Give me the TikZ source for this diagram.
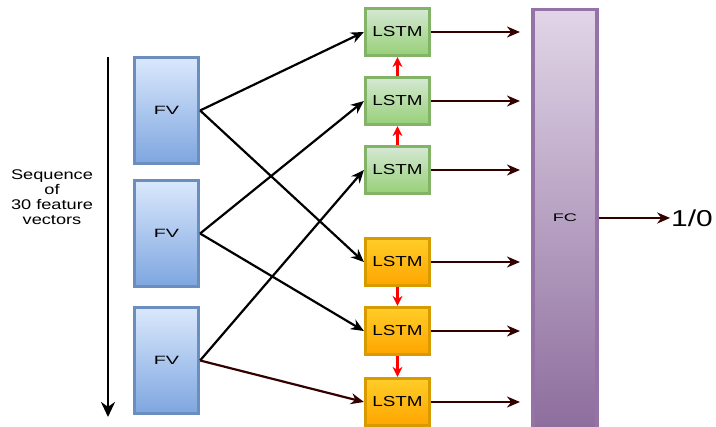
\documentclass[tikz,border=0pt]{standalone}
\usepackage{fontspec}
\setmainfont{Liberation Sans}
\newfontfamily\wideface{Liberation Sans}[FakeStretch=1.3]
\newfontfamily\widerface{Liberation Sans}[FakeStretch=1.65]
\usetikzlibrary{arrows.meta}
\definecolor{FvLine}{HTML}{6C8EBF}
\definecolor{FvTop}{HTML}{DAE8FC}
\definecolor{FvBot}{HTML}{7EA6E0}
\definecolor{GrLine}{HTML}{82B366}
\definecolor{GrTop}{HTML}{D5E8D4}
\definecolor{GrBot}{HTML}{97D077}
\definecolor{OrLine}{HTML}{D79B00}
\definecolor{OrTop}{HTML}{FFCD28}
\definecolor{OrBot}{HTML}{FFA500}
\definecolor{FcLine}{HTML}{9673A6}
\definecolor{FcTop}{HTML}{E1D5E7}
\definecolor{FcBot}{HTML}{8C6C9C}
\definecolor{DarkRed}{HTML}{330000}

\begin{document}
\begin{tikzpicture}[x=1pt, y=-1pt, line width=2.2pt, -{Stealth[length=13pt,width=11pt]},
        every node/.append style={font=\wideface\fontsize{14.5}{15}\selectfont, inner sep=0pt}]
      \tikzstyle{fv} = [draw=FvLine, line width=3.2pt, top color=FvTop, bottom color=FvBot,
        minimum width=64pt, minimum height=106pt, font=\widerface\fontsize{12}{13}\selectfont]
      \tikzstyle{lstmup} = [draw=GrLine, line width=3.2pt, top color=GrTop, bottom color=GrBot,
        minimum width=64pt, minimum height=47pt]
      \tikzstyle{lstmdown} = [draw=OrLine, line width=3.2pt, top color=OrTop, bottom color=OrBot,
        minimum width=64pt, minimum height=47pt]
      \tikzstyle{recur} = [red, line width=2.4pt, -{Stealth[length=10pt,width=10pt]}]
      \tikzstyle{feed} = [DarkRed]
      \path[use as bounding box] (0,0) rectangle (716,427);

      % inputs
      \node (FV1) [fv] at (166.5,110.5) {FV};
      \node (FV2) [fv] at (166.5,233.5) {FV};
      \node (FV3) [fv] at (166.5,360.5) {FV};
      \coordinate (SeqTop) at (108,57);
      \coordinate (SeqBot) at (108,417);
      \draw[line width=2.8pt, -{Stealth[length=15pt,width=14pt]}] (SeqTop) -- (SeqBot);
      \node (Seq) [align=center, font=\wideface\fontsize{14}{15}\selectfont] at (52,197)
        {Sequence\\of\\30 feature\\vectors};

      % forward and backward LSTMs
      \node (Up1) [lstmup] at (397.5,32) {LSTM};
      \node (Up2) [lstmup] at (397.5,101) {LSTM};
      \node (Up3) [lstmup] at (397.5,170) {LSTM};
      \node (Down1) [lstmdown] at (397.5,262) {LSTM};
      \node (Down2) [lstmdown] at (397.5,331) {LSTM};
      \node (Down3) [lstmdown] at (397.5,402) {LSTM};

      \draw (FV1.east) -- (Up1.west);
      \draw (FV1.east) -- (Down1.west);
      \draw (FV2.east) -- (Up2.west);
      \draw (FV2.east) -- (Down2.west);
      \draw (FV3.east) -- (Up3.west);
      \draw[feed] (FV3.east) -- (Down3.west);

      \draw[recur] (Up3) -- (Up2);
      \draw[recur] (Up2) -- (Up1);
      \draw[recur] (Down1) -- (Down2);
      \draw[recur] (Down2) -- (Down3);

      % fully connected layer
      \node (FC) [draw=FcLine, line width=3.2pt, top color=FcTop, bottom color=FcBot,
        minimum width=64pt, minimum height=424pt, anchor=north] at (565,8) {};
      \node (FCtext) [font=\widerface\fontsize{11}{12}\selectfont] at (565,218) {FC};
      \foreach \n/\y in {Up1/32,Up2/101,Up3/170,Down1/262,Down2/331,Down3/402}
        \draw[feed] (\n.east) -- (520,\y);
      \node (Result) [font=\wideface\fontsize{23}{26}\selectfont] at (692,218) {1/0};
      \draw[feed] (FC.east |- Result) -- (Result.west);
    \end{tikzpicture}
\end{document}
